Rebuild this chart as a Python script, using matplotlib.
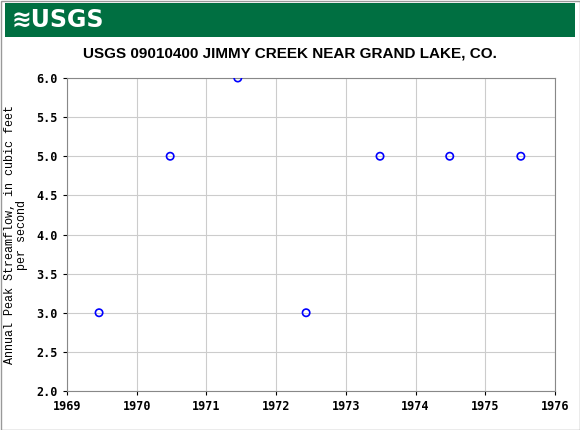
import matplotlib
matplotlib.use("Agg")
import matplotlib.pyplot as plt
from matplotlib.patches import Rectangle

years = [1969.46, 1970.48, 1971.45, 1972.43, 1973.49, 1974.49, 1975.51]
peaks = [3.0, 5.0, 6.0, 3.0, 5.0, 5.0, 5.0]
xticks = [1969, 1970, 1971, 1972, 1973, 1974, 1975, 1976]
yticks = [2.0, 2.5, 3.0, 3.5, 4.0, 4.5, 5.0, 5.5, 6.0]

W, H = 580, 430
fig = plt.figure(figsize=(W/100, H/100), dpi=100)
fig.patch.set_facecolor("white")
fig.add_artist(Rectangle((0.5/W, 0.5/H), 1-1/W, 1-1/H, transform=fig.transFigure,
                         fill=False, edgecolor="#999999", lw=1))
fig.add_artist(Rectangle((5/W, 1-37/H), 570/W, 34/H, transform=fig.transFigure,
                         facecolor="#006f41", edgecolor="none"))
fig.text(12/W, 1-20/H, "≋USGS", color="white", fontsize=17, fontweight="bold",
         va="center", ha="left", family="DejaVu Sans")
fig.text(290/W, 1-53/H, "USGS 09010400 JIMMY CREEK NEAR GRAND LAKE, CO.",
         ha="center", va="center", fontsize=11, fontweight="bold", family="Liberation Sans")

ax = fig.add_axes([67/W, 1-391/H, (555-67)/W, (391-78)/H])
ax.scatter(years, peaks, s=28, facecolors="none", edgecolors="#0000ff", linewidths=1.2, zorder=3)
ax.set_xlim(1969, 1976)
ax.set_ylim(2.0, 6.0)
ax.set_xticks(xticks)
ax.set_xticklabels([str(t) for t in xticks])
ax.set_yticks(yticks)
ax.set_yticklabels([f"{t:.1f}" for t in yticks])
ax.grid(True, color="#cccccc", lw=0.8)
ax.set_axisbelow(True)
for lab in ax.get_xticklabels() + ax.get_yticklabels():
    lab.set_family("DejaVu Sans Mono"); lab.set_fontweight("bold"); lab.set_fontsize(8.5)
ax.tick_params(length=3, direction="out")
for s in ax.spines.values():
    s.set_color("#888888")
ax.set_ylabel("Annual Peak Streamflow, in cubic feet\nper second", family="Liberation Mono",
              fontsize=8.5, labelpad=6, linespacing=1.0)
fig.savefig("out.png", dpi=100)
